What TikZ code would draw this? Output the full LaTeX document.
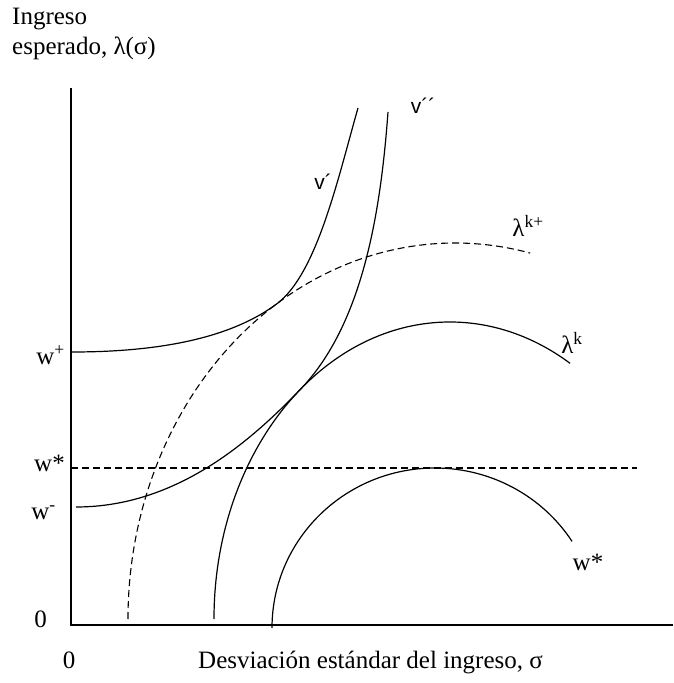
\documentclass[tikz,border=0pt]{standalone}
\usepackage{fontspec}
\setmainfont{Liberation Serif}
\newfontfamily\vsans{Liberation Sans}
\usetikzlibrary{calc}

\begin{document}
\begin{tikzpicture}[x=1pt, y=1pt,
  lbl/.style={font=\fontsize{25}{29}\selectfont, inner sep=0pt},
  vlbl/.style={font=\vsans\fontsize{21}{25}\selectfont, inner sep=0pt},
  curve/.style={line width=1.2pt},
  dashcurve/.style={line width=1.1pt, dash pattern=on 7pt off 4pt}]
  \useasboundingbox (-71,-58) rectangle (603,625);
  % axes
  \draw[line width=2.8pt] (0,537) -- (0,0) -- (602,0);
  % axis labels
  \node[lbl, anchor=base west] (ylab1) at (-59,600) {Ingreso};
  \node[lbl, anchor=base west] (ylab2) at (-59,570) {esperado, λ(σ)};
  \node[lbl, anchor=base west] (xlab) at (127,-43) {Desviación estándar del ingreso, σ};
  \node[lbl, anchor=base] (xzero) at (-2,-43) {0};
  \node[lbl, anchor=base east] (yzero) at (-24,-2) {0};
  % levels on the vertical axis
  \node[lbl, anchor=base east] (wplus) at (-6,260) {w\textsuperscript{+}};
  \node[lbl, anchor=base east] (wstar) at (-6,153) {w*};
  \node[lbl, anchor=base east] (wminus) at (-15,105) {w\textsuperscript{-}};
  % w* level (dashed)
  \draw[dashcurve] (0,157) -- (566,157);
  % opportunity frontiers
  \draw[dashcurve] (57,6) arc[start angle=180, end angle=76.7, x radius=327pt, y radius=376pt];
  \draw[curve] (143,6) arc[start angle=180, end angle=59.4, x radius=236pt, y radius=297pt];
  \draw[curve] (201,-3) arc[start angle=180, end angle=32.8, x radius=163pt, y radius=160pt];
  \node[lbl] (lamkp) at (457,399) {λ\textsuperscript{k+}};
  \node[lbl] (lamk) at (501,282) {λ\textsuperscript{k}};
  \node[lbl] (wstarb) at (517,63) {w*};
  % indifference curves, tangent to the frontiers
  \draw[curve] (1,273) .. controls (91,273) and (161,287.7) .. (206,321.3)
    .. controls (246,351.2) and (267,447) .. (287,517);
  \draw[curve] (5,118) .. controls (105,118) and (179,183.3) .. (229,235.2)
    .. controls (289,297.4) and (309,403) .. (317,513);
  \node[vlbl] (vone) at (252,443) {v´};
  \node[vlbl] (vtwo) at (352,519) {v´´};
\end{tikzpicture}
\end{document}
